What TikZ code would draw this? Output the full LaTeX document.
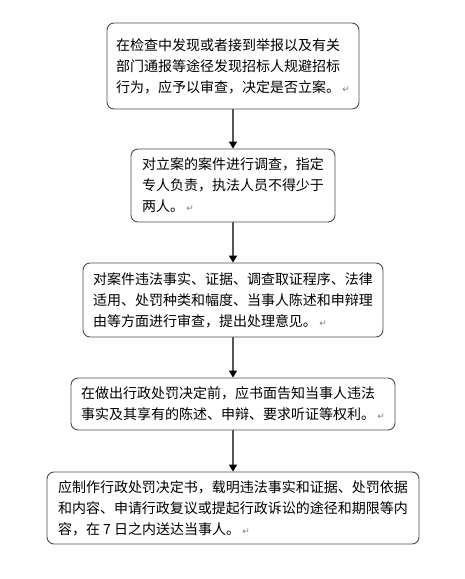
\documentclass[tikz,border=0pt]{standalone}
\usepackage{fontspec}
\setmainfont{Noto Sans CJK SC}
\newfontfamily\markfont{DejaVu Sans}
\usepackage{tikz}
\usetikzlibrary{arrows.meta,positioning}
\usepackage{xcolor}
\definecolor{boxline}{HTML}{4D4D4D}
\definecolor{flowline}{HTML}{555555}
\tikzset{
  step box/.style={draw=boxline,line width=.9pt,rounded corners=7pt,fill=white,
    align=left,inner sep=0pt,font=\fontsize{14pt}{21pt}\selectfont},
  flow arrow/.style={draw=flowline,line width=1.4pt,
    -{Triangle[length=7pt,width=8pt,color=black]}}
}
\newcommand{\ParaMark}{\,{\color{gray}\markfont\fontsize{9pt}{9pt}\selectfont ↵}}

\begin{document}
\begin{tikzpicture}[x=1pt,y=-1pt,line cap=round,line join=round]
  \useasboundingbox (0,0) rectangle (465,579);
  \coordinate (p1) at (233,66);
  \coordinate (p2) at (233,185.5);
  \coordinate (p3) at (233,300);
  \coordinate (p4) at (233,404);
  \coordinate (p5) at (233,508);

  \node[step box,minimum width=252pt,minimum height=86pt] (b1) at (p1)
    {在检查中发现或者接到举报以及有关\\部门通报等途径发现招标人规避招标\\行为，应予以审查，决定是否立案。\ParaMark};
  \node[step box,minimum width=204pt,minimum height=73pt] (b2) at (p2)
    {对立案的案件进行调查，指定\\专人负责，执法人员不得少于\\两人。\ParaMark};
  \node[step box,minimum width=300pt,minimum height=74pt] (b3) at (p3)
    {对案件违法事实、证据、调查取证程序、法律\\适用、处罚种类和幅度、当事人陈述和申辩理\\由等方面进行审查，提出处理意见。\ParaMark};
  \node[step box,minimum width=324pt,minimum height=52pt] (b4) at (p4)
    {在做出行政处罚决定前，应书面告知当事人违法\\事实及其享有的陈述、申辩、要求听证等权利。\ParaMark};
  \node[step box,minimum width=372pt,minimum height=72pt] (b5) at (p5)
    {应制作行政处罚决定书，载明违法事实和证据、处罚依据\\和内容、申请行政复议或提起行政诉讼的途径和期限等内\\容，在 7 日之内送达当事人。\ParaMark};

  \draw[flow arrow] (b1) -- (b2);
  \draw[flow arrow] (b2) -- (b3);
  \draw[flow arrow] (b3) -- (b4);
  \draw[flow arrow] (b4) -- (b5);
\end{tikzpicture}
\end{document}
